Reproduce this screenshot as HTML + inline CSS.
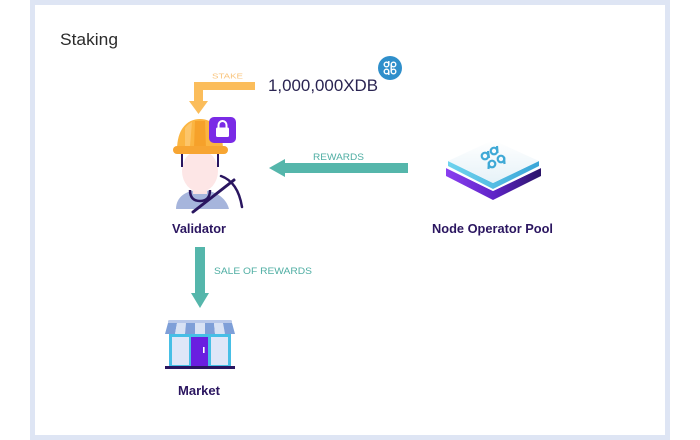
<!DOCTYPE html>
<html><head><meta charset="utf-8"><style>
html,body{margin:0;padding:0;background:#fff;}
svg{display:block;}
text{font-family:"Liberation Sans",sans-serif;}
</style></head><body>
<svg width="700" height="440" viewBox="0 0 700 440" xmlns="http://www.w3.org/2000/svg">
<defs>
<linearGradient id="pur" x1="0" y1="0" x2="1" y2="0">
<stop offset="0" stop-color="#8a3ff0"/><stop offset="0.5" stop-color="#6024c8"/><stop offset="1" stop-color="#2a1468"/>
</linearGradient>
<linearGradient id="cy" x1="0" y1="0" x2="1" y2="0">
<stop offset="0" stop-color="#6fd3ee"/><stop offset="1" stop-color="#3aa6d8"/>
</linearGradient>
<linearGradient id="top" x1="0" y1="0" x2="0" y2="1">
<stop offset="0" stop-color="#ffffff"/><stop offset="1" stop-color="#e6f2f8"/>
</linearGradient>
</defs>
<rect x="0" y="0" width="700" height="440" fill="#fff"/>
<rect x="32.5" y="2.5" width="635" height="435" fill="#fff" stroke="#dee5f4" stroke-width="5"/>

<text x="60" y="45" font-size="16.5" fill="#2b2b2b" textLength="58" lengthAdjust="spacingAndGlyphs">Staking</text>

<!-- STAKE arrow -->
<polygon points="255,82 194,82 194,101 189,101 198.5,114 208,101 203,101 203,90 255,90" fill="#fbbd5b"/>
<text x="212" y="78.5" font-size="7.5" fill="#f9c57e" textLength="31" lengthAdjust="spacingAndGlyphs">STAKE</text>
<text x="268" y="91" font-size="17" fill="#2a2452" textLength="110" lengthAdjust="spacingAndGlyphs">1,000,000XDB</text>
<circle cx="390" cy="68" r="12" fill="#2f8fcb"/>
<g stroke="#fff" stroke-width="1.4" fill="none">
<circle cx="386.5" cy="64.5" r="2.3"/><circle cx="393.5" cy="64.5" r="2.3"/>
<circle cx="386.5" cy="71.5" r="2.3"/><circle cx="393.5" cy="71.5" r="2.3"/>
<line x1="388.8" y1="61" x2="388.8" y2="65"/><line x1="391.2" y1="64.5" x2="391.2" y2="68"/>
<line x1="388.8" y1="71.5" x2="388.8" y2="75"/><line x1="391.2" y1="68" x2="391.2" y2="71.5"/>
</g>

<!-- Validator figure -->
<path d="M176,209 C176,197 186,190 200,190 C214,190 226,197 229,209 Z" fill="#a6b5dc"/>
<rect x="193" y="184" width="14" height="10" fill="#fde3e3"/>
<ellipse cx="200" cy="171" rx="18" ry="21" fill="#fde6e6"/>
<path d="M190,190 Q190,201 200,201 Q210,201 210,190" stroke="#2a1660" stroke-width="2.5" fill="none"/>
<line x1="182" y1="153" x2="182" y2="167" stroke="#2a1660" stroke-width="2"/>
<line x1="218" y1="153" x2="218" y2="167" stroke="#2a1660" stroke-width="2"/>
<path d="M177,150 C177,128 188,119 200,119 C212,119 223,128 223,150 Z" fill="#fbb541"/>
<path d="M195,121 L205,121 L206,148 L194,148 Z" fill="#f6a12a"/>
<path d="M185,128 Q188,124 192,122 L190,146 L185,146 Z" fill="#fcc56a"/>
<rect x="173" y="146" width="55" height="8" rx="4" fill="#f7a532"/>
<line x1="193" y1="212" x2="234" y2="180" stroke="#2a1660" stroke-width="3" stroke-linecap="round"/>
<path d="M221,176 Q238,182 242,207" stroke="#2a1660" stroke-width="2.5" fill="none" stroke-linecap="round"/>
<rect x="209" y="117" width="27" height="26" rx="5" fill="#7a2be6"/>
<rect x="216" y="127.5" width="13" height="9.5" rx="1.5" fill="#fff"/>
<path d="M218.5,128 v-3 a4,4 0 0 1 8,0 v3" stroke="#fff" stroke-width="2" fill="none"/>
<text x="172" y="233" font-size="12.5" font-weight="bold" fill="#2b1660" textLength="54" lengthAdjust="spacingAndGlyphs">Validator</text>

<!-- REWARDS arrow -->
<polygon points="408,163 285,163 285,159 269,168 285,177 285,173 408,173" fill="#55b6ab"/>
<text x="313" y="160" font-size="9" fill="#4faea3" textLength="51" lengthAdjust="spacingAndGlyphs">REWARDS</text>

<!-- Node operator pool icon -->
<polygon points="446,168 493,191 541,168 541,176 493,200 446,176" fill="url(#pur)"/>
<polygon points="446,168 493,146 541,168 493,191" fill="#fff"/>
<polygon points="448,161 493,183 539,161 539,166 493,189 448,166" fill="url(#cy)"/>
<polygon points="448,161 493,140 539,161 493,183" fill="url(#top)"/>
<g stroke="#3fa9d6" stroke-width="2.2" fill="none">
<circle cx="485" cy="156" r="3.3"/><circle cx="494" cy="151" r="3.3"/>
<circle cx="492" cy="164" r="3.3"/><circle cx="501" cy="159" r="3.3"/>
<line x1="488" y1="151" x2="489" y2="158"/><line x1="497" y1="146" x2="497.5" y2="153"/>
<line x1="489" y1="162" x2="488.5" y2="169"/><line x1="504" y1="157" x2="504.5" y2="164"/>
</g>
<text x="432" y="233" font-size="12.5" font-weight="bold" fill="#2b1660" textLength="121" lengthAdjust="spacingAndGlyphs">Node Operator Pool</text>

<!-- SALE arrow -->
<polygon points="195,247 205,247 205,293 209,293 200,308 191,293 195,293" fill="#55b6ab"/>
<text x="214" y="274" font-size="9" fill="#4faea3" textLength="98" lengthAdjust="spacingAndGlyphs">SALE OF REWARDS</text>

<!-- Market -->
<rect x="169" y="333" width="62" height="33" fill="#47bfe6"/>
<rect x="172" y="337" width="17" height="28" fill="#dfe7f8"/>
<rect x="211" y="337" width="17" height="28" fill="#dfe7f8"/>
<rect x="191" y="337" width="17" height="29" fill="#6a1ee0"/>
<rect x="203" y="347" width="1.6" height="6" fill="#fff"/>
<rect x="168" y="320" width="64" height="4" rx="1.5" fill="#b9c9ea"/>
<g>
<polygon points="168,323 177,323 175,334 165,334" fill="#7e9fd8"/>
<polygon points="177,323 186,323 185,334 175,334" fill="#d8e2f4"/>
<polygon points="186,323 195,323 195,334 185,334" fill="#7e9fd8"/>
<polygon points="195,323 205,323 205,334 195,334" fill="#d8e2f4"/>
<polygon points="205,323 214,323 215,334 205,334" fill="#7e9fd8"/>
<polygon points="214,323 223,323 225,334 215,334" fill="#d8e2f4"/>
<polygon points="223,323 232,323 235,334 225,334" fill="#7e9fd8"/>
</g>
<rect x="165" y="366" width="70" height="3" fill="#2a1660"/>
<text x="178" y="395" font-size="12.5" font-weight="bold" fill="#2b1660" textLength="42" lengthAdjust="spacingAndGlyphs">Market</text>
</svg>
</body></html>
